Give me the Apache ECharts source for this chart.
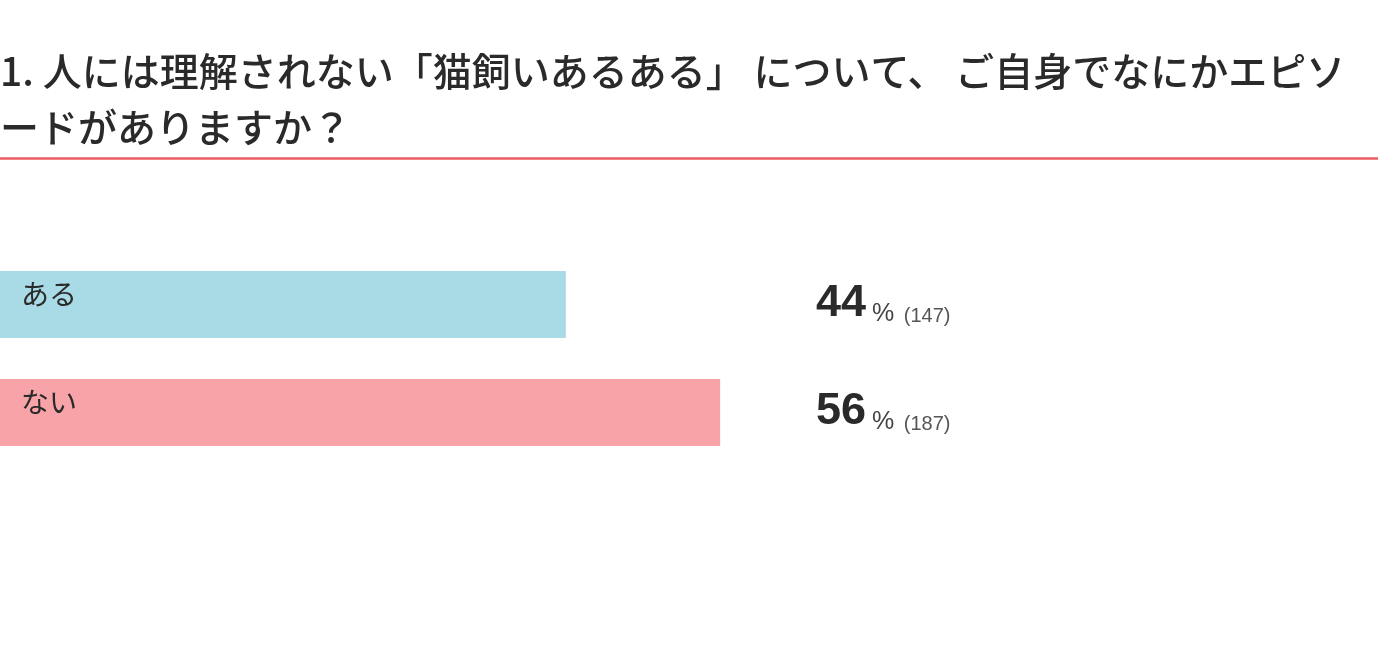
<!DOCTYPE html>
<html>
<head>
<meta charset="utf-8">
<script src="https://cdn.jsdelivr.net/npm/echarts@6/dist/echarts.min.js"></script>
<style>
html,body{margin:0;padding:0;background:#fff;}
#chart{width:1398px;height:654px;}
</style>
</head>
<body>
<div id="chart"></div>
<script>
const titleLines = ['1. 人には理解されない「猫飼いあるある」 について、 ご自身でなにかエピソ', 'ードがありますか？'];
const categories = ['ある', 'ない'];
const percents = [44, 56];
const counts = [147, 187];
const barColors = ['#a9dbe6', '#f7a3a7'];

const chart = echarts.init(document.getElementById('chart'));
chart.setOption({
  backgroundColor: '#ffffff',
  animation: false,
  title: {
    text: titleLines.join('\n'),
    left: 0,
    top: 43,
    padding: 0,
    textStyle: {
      fontFamily: '"Noto Sans CJK JP", sans-serif',
      fontSize: 39,
      fontWeight: 500,
      color: '#2a2a2a',
      lineHeight: 56
    }
  },
  graphic: [{
    type: 'line',
    shape: { x1: 0, y1: 158.5, x2: 1378, y2: 158.5 },
    style: { stroke: '#ec5b5f', lineWidth: 2.5 },
    silent: true
  }],
  grid: { left: 0, right: 112, top: 250.5, bottom: 187.5, containLabel: false },
  xAxis: { type: 'value', min: 0, max: 100, show: false },
  yAxis: [{
    type: 'category',
    data: categories,
    inverse: true,
    show: false
  }, {
    type: 'category',
    data: categories,
    inverse: true,
    position: 'left',
    offset: -816,
    axisLine: { show: false },
    axisTick: { show: false },
    splitLine: { show: false },
    axisLabel: {
      inside: true,
      margin: 0,
      align: 'left',
      formatter: function (v, i) {
        return '{big|' + percents[i] + '}{pct|%}{cnt| (' + counts[i] + ')}';
      },
      rich: {
        big: { fontFamily: '"Liberation Sans", Arial, sans-serif', fontSize: 45, fontWeight: 'bold', color: '#2a2a2a', verticalAlign: 'bottom', lineHeight: 44 },
        pct: { fontFamily: '"Liberation Sans", Arial, sans-serif', fontSize: 25, color: '#444', verticalAlign: 'bottom', lineHeight: 44, padding: [0, 0, 0, 6] },
        cnt: { fontFamily: '"Liberation Sans", Arial, sans-serif', fontSize: 20, color: '#555', verticalAlign: 'bottom', lineHeight: 43, padding: [0, 0, 0, 4] }
      }
    }
  }],
  series: [{
    type: 'bar',
    yAxisIndex: 0,
    data: percents.map(function (v, i) { return { value: v, itemStyle: { color: barColors[i] } }; }),
    barWidth: 67,
    label: {
      show: true,
      position: 'insideLeft',
      distance: 21,
      offset: [0, -10],
      formatter: function (p) { return categories[p.dataIndex]; },
      fontFamily: '"Noto Sans CJK JP", sans-serif',
      fontSize: 28,
      color: '#2a2a2a'
    }
  }]
});
</script>
</body>
</html>
